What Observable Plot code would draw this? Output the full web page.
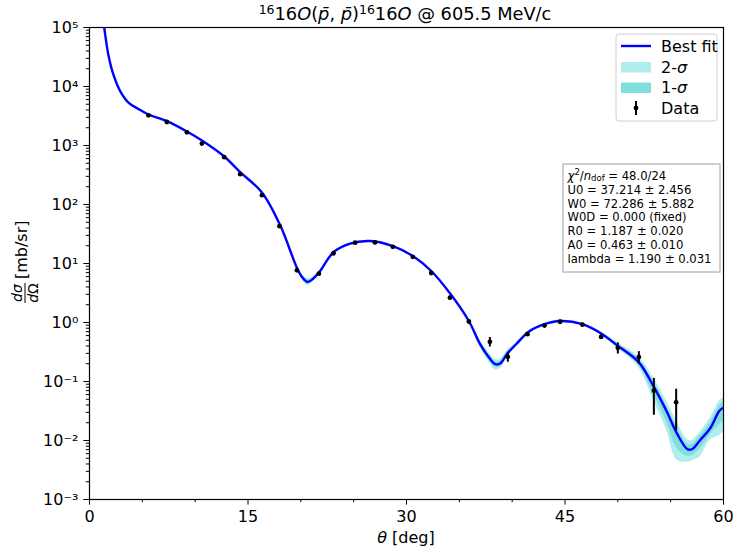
<!DOCTYPE html>
<html><head><meta charset="utf-8">
<script src="https://cdn.jsdelivr.net/npm/d3@7"></script>
<script src="https://cdn.jsdelivr.net/npm/@observablehq/plot@0.6"></script>
<style>
body{margin:0;background:#fff;}
svg{font-family:"DejaVu Sans",sans-serif;}
</style></head><body><div id="chart"></div>
<script>
// Best-fit curve (theta in deg, dσ/dΩ in mb/sr)
const fitTheta = [1.2, 1.39, 1.77, 2.24, 2.88, 3.66, 4.61, 5.58, 7.32, 9.22, 10.64, 12.75, 14.26, 16.32, 18.05, 19.63, 20.13, 20.63, 21.17, 21.77, 23.09, 24.67, 26.57, 28.77, 30.60, 32.34, 34.13, 35.90, 36.97, 37.76, 38.39, 38.87, 39.56, 40.45, 41.54, 43.06, 44.54, 46.65, 48.42, 49.91, 51.95, 53.37, 54.64, 55.59, 56.59, 57.01, 57.80, 58.74, 59.62, 60.0];
const fitValue = [170000, 100000, 35600, 16300, 8530, 5400, 4180, 3350, 2580, 1725, 1215, 652, 353, 160, 44.3, 8.45, 5.84, 4.86, 5.51, 7.24, 15.5, 21.7, 24.0, 19.5, 13.4, 7.46, 3.10, 1.06, 0.43, 0.262, 0.197, 0.202, 0.299, 0.441, 0.693, 0.936, 1.06, 0.936, 0.652, 0.413, 0.215, 0.0836, 0.0307, 0.0132, 0.0071, 0.0071, 0.0102, 0.0161, 0.0319, 0.036];
// uncertainty bands: half-widths below / above the fit, in decades
const band2Lo = [0.01,0.01,0.01,0.01,0.01,0.01,0.01,0.01,0.01,0.01,0.01,0.01,0.01,0.01,0.01, 0.02,0.04,0.06,0.04,0.02, 0.01,0.01,0.01,0.01,0.01,0.01,0.01, 0.03,0.06,0.08,0.10,0.09,0.06,0.03,0.02, 0.015,0.015,0.015, 0.03,0.05,0.09,0.24,0.32,0.45,0.22,0.20,0.28,0.20,0.42,0.40];
const band2Hi = [0.01,0.01,0.01,0.01,0.01,0.01,0.01,0.01,0.01,0.01,0.01,0.01,0.01,0.01,0.01, 0.02,0.04,0.06,0.04,0.02, 0.01,0.01,0.01,0.01,0.01,0.01,0.01, 0.03,0.06,0.08,0.08,0.07,0.06,0.03,0.02, 0.015,0.015,0.015, 0.03,0.05,0.09,0.14,0.17,0.20,0.16,0.15,0.14,0.17,0.17,0.17];
const band1Lo = [0.005,0.005,0.005,0.005,0.005,0.005,0.005,0.005,0.005,0.005,0.005,0.005,0.005,0.005,0.005, 0.01,0.02,0.03,0.02,0.01, 0.005,0.005,0.005,0.005,0.005,0.005,0.005, 0.015,0.03,0.045,0.055,0.05,0.035,0.015,0.01, 0.008,0.008,0.008, 0.015,0.03,0.05,0.13,0.18,0.25,0.12,0.11,0.15,0.11,0.23,0.22];
const band1Hi = [0.005,0.005,0.005,0.005,0.005,0.005,0.005,0.005,0.005,0.005,0.005,0.005,0.005,0.005,0.005, 0.01,0.02,0.03,0.02,0.01, 0.005,0.005,0.005,0.005,0.005,0.005,0.005, 0.015,0.03,0.045,0.045,0.04,0.035,0.015,0.01, 0.008,0.008,0.008, 0.015,0.03,0.05,0.08,0.09,0.11,0.09,0.08,0.08,0.09,0.09,0.09];
// measured data
const dataTheta = [5.58, 7.32, 9.22, 10.64, 12.75, 14.26, 16.32, 17.98, 19.63, 21.71, 23.09, 25.14, 27.01, 28.71, 30.60, 32.34, 34.11, 35.90, 37.89, 39.59, 41.45, 43.06, 44.54, 46.65, 48.42, 50.00, 51.99, 53.41, 55.52];
const dataValue = [3250, 2500, 1675, 1080, 633, 327, 144, 43, 7.67, 6.73, 14.9, 22.5, 22.8, 19.2, 13.0, 6.9, 2.64, 1.04, 0.47, 0.262, 0.635, 0.887, 1.03, 0.92, 0.57, 0.372, 0.259, 0.0698, 0.0443];
const dataErr = [110, 90, 60, 45, 25, 14, 6, 2, 0.4, 0.4, 1.2, 1, 1, 0.9, 0.6, 0.4, 0.15, 0.05, 0.085, 0.05, 0.04, 0.05, 0.06, 0.05, 0.05, 0.08, 0.062, 0.043, 0.0297];
// ticks
const xMajor = [0, 15, 30, 45, 60];
const xMinor = [5, 10, 20, 25, 35, 40, 50, 55];
const yMajor = [1e-3, 1e-2, 1e-1, 1e0, 1e1, 1e2, 1e3, 1e4, 1e5];
const yTickLabels = ["10\u207B\u00B3", "10\u207B\u00B2", "10\u207B\u00B9", "10\u2070", "10\u00B9", "10\u00B2", "10\u00B3", "10\u2074", "10\u2075"];
const statsLines = ["U0 = 37.214 \u00B1 2.456", "W0 = 72.286 \u00B1 5.882", "W0D = 0.000 (fixed)", "R0 = 1.187 \u00B1 0.020", "A0 = 0.463 \u00B1 0.010", "lambda = 1.190 \u00B1 0.031"];
const legendLabels = ["Best fit", "2-", "1-", "Data"];

const yMinor = [];
yMajor.slice(0, -1).forEach(d => { for (let k = 2; k <= 9; k++) yMinor.push(d * k); });

const fitRows = fitTheta.map((t, i) => ({
  theta: t, value: fitValue[i],
  lo2: fitValue[i] * Math.pow(10, -band2Lo[i]), hi2: fitValue[i] * Math.pow(10, band2Hi[i]),
  lo1: fitValue[i] * Math.pow(10, -band1Lo[i]), hi1: fitValue[i] * Math.pow(10, band1Hi[i])
}));
const dataRows = dataTheta.map((t, i) => ({theta: t, value: dataValue[i], lo: dataValue[i] - dataErr[i], hi: dataValue[i] + dataErr[i]}));

const C2 = "#b0eded", C1 = "#80dfdc", CL = "#0000ff";

const chart = Plot.plot({
  width: 736, height: 551,
  marginLeft: 89, marginRight: 13, marginTop: 27, marginBottom: 52,
  style: {fontFamily: "DejaVu Sans", fontSize: "16px", background: "white", color: "black", overflow: "visible"},
  x: {domain: [0, 60]},
  y: {type: "log", domain: [1e-3, 1e5]},
  marks: [
    Plot.areaY(fitRows, {x: "theta", y1: "lo2", y2: "hi2", fill: C2, curve: "catmull-rom", clip: true}),
    Plot.areaY(fitRows, {x: "theta", y1: "lo1", y2: "hi1", fill: C1, curve: "catmull-rom", clip: true}),
    Plot.line(fitRows, {x: "theta", y: "value", stroke: CL, strokeWidth: 2.4, curve: "catmull-rom", clip: true}),
    Plot.ruleX(dataRows, {x: "theta", y1: "lo", y2: "hi", stroke: "black", strokeWidth: 2, clip: true}),
    Plot.dot(dataRows, {x: "theta", y: "value", r: 2.4, fill: "black"}),
    Plot.axisX({ticks: xMajor, tickSize: 5.6, tickPadding: 5.6, label: null, tickFormat: d => String(d)}),
    Plot.axisX({ticks: xMinor, tickSize: 3.2, label: null, tickFormat: () => ""}),
    Plot.axisY({ticks: yMajor, tickSize: 5.6, tickPadding: 5.6, label: null, tickFormat: d => yTickLabels[Math.round(Math.log10(d)) + 3]}),
    Plot.axisY({ticks: yMinor, tickSize: 3.2, label: null, tickFormat: () => ""}),
    Plot.frame({stroke: "black", strokeWidth: 1.2})
  ]
});
document.getElementById("chart").appendChild(chart);

const svg = d3.select(chart);

function ts(sel, txt, opt = {}) {
  const s = sel.append("tspan").text(txt);
  if (opt.italic) s.attr("font-style", "italic");
  if (opt.size) s.attr("font-size", opt.size);
  if (opt.dy) s.attr("dy", opt.dy);
  return s;
}

// Title
const title = svg.append("text").attr("x", 405).attr("y", 20).attr("text-anchor", "middle").attr("font-size", 17.8).attr("fill", "black");
ts(title, "16", {size: 12.5, dy: -6.5});
ts(title, "16", {dy: 6.5});
ts(title, "O", {italic: true});
ts(title, "(");
ts(title, "p\u0304", {italic: true});
ts(title, ", ");
ts(title, "p\u0304", {italic: true});
ts(title, ")");
ts(title, "16", {size: 12.5, dy: -6.5});
ts(title, "16", {dy: 6.5});
ts(title, "O", {italic: true});
ts(title, " @ 605.5 MeV/c");

// X label
const xl = svg.append("text").attr("x", 406).attr("y", 543).attr("text-anchor", "middle").attr("font-size", 16);
ts(xl, "\u03B8", {italic: true});
ts(xl, " [deg]");

// Y label (rotated, with fraction)
const yl = svg.append("g").attr("transform", "translate(27,263) rotate(-90)").attr("font-size", 16).attr("text-anchor", "start");
yl.append("text").attr("x", -16).attr("y", 0).attr("text-anchor", "start").text("[mb/sr]");
const fx = -30;
const num = yl.append("text").attr("x", fx).attr("y", -5).attr("text-anchor", "middle").attr("font-size", 14);
ts(num, "d\u03C3", {italic: true});
const den = yl.append("text").attr("x", fx).attr("y", 11).attr("text-anchor", "middle").attr("font-size", 14);
ts(den, "d", {italic: true});
ts(den, "\u03A9");
yl.append("line").attr("x1", fx - 10).attr("x2", fx + 10).attr("y1", -2).attr("y2", -2).attr("stroke", "black").attr("stroke-width", 1);

// Legend
const lg = svg.append("g").attr("font-size", 16).attr("text-anchor", "start");
lg.append("rect").attr("x", 616).attr("y", 34).attr("width", 101).attr("height", 87).attr("rx", 3)
  .attr("fill", "white").attr("fill-opacity", 0.8).attr("stroke", "#d0d0d0").attr("stroke-width", 1);
lg.append("line").attr("x1", 621).attr("x2", 651).attr("y1", 46).attr("y2", 46).attr("stroke", CL).attr("stroke-width", 2.4);
lg.append("text").attr("x", 661).attr("y", 52).text(legendLabels[0]);
lg.append("rect").attr("x", 621).attr("y", 62).attr("width", 30).attr("height", 10.5).attr("fill", C2);
const l2 = lg.append("text").attr("x", 661).attr("y", 72.5);
ts(l2, legendLabels[1]); ts(l2, "\u03C3", {italic: true});
lg.append("rect").attr("x", 621).attr("y", 82.5).attr("width", 30).attr("height", 10.5).attr("fill", C1);
const l1 = lg.append("text").attr("x", 661).attr("y", 93);
ts(l1, legendLabels[2]); ts(l1, "\u03C3", {italic: true});
lg.append("line").attr("x1", 636).attr("x2", 636).attr("y1", 101).attr("y2", 115).attr("stroke", "black").attr("stroke-width", 2);
lg.append("circle").attr("cx", 636).attr("cy", 108).attr("r", 2.4).attr("fill", "black");
lg.append("text").attr("x", 661).attr("y", 113.7).text(legendLabels[3]);

// Stats box
const sb = svg.append("g").attr("font-size", 11.6).attr("text-anchor", "start");
sb.append("rect").attr("x", 563).attr("y", 164).attr("width", 157).attr("height", 108)
  .attr("fill", "white").attr("stroke", "#bfbfbf").attr("stroke-width", 1.5);
const s0 = sb.append("text").attr("x", 567.5).attr("y", 179.5);
ts(s0, "\u03C7", {italic: true});
ts(s0, "2", {size: 8.5, dy: -5});
ts(s0, "/", {dy: 5});
ts(s0, "n", {italic: true});
ts(s0, "dof", {size: 8.5, dy: 1.8});
ts(s0, " = 48.0/24", {dy: -1.8});
statsLines.forEach((s, i) => {
  sb.append("text").attr("x", 567.5).attr("y", 193.8 + i * 13.83).text(s);
});
</script>
</body></html>
